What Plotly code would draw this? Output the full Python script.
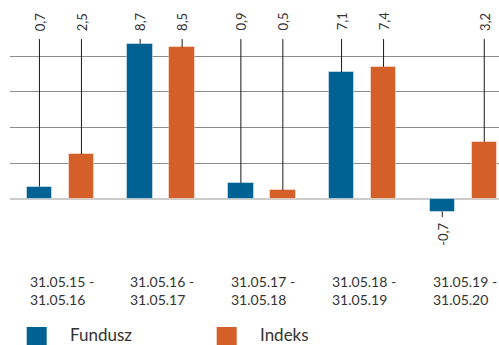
import plotly.graph_objects as go

# Yearly returns: fund vs benchmark index
periods = ["31.05.15 -<br>31.05.16", "31.05.16 -<br>31.05.17", "31.05.17 -<br>31.05.18",
           "31.05.18 -<br>31.05.19", "31.05.19 -<br>31.05.20"]
series_names = ["Fundusz", "Indeks"]
fundusz = [0.7, 8.7, 0.9, 7.1, -0.7]
indeks = [2.5, 8.5, 0.5, 7.4, 3.2]
grid_values = [2, 4, 6, 8]

colors = ["#006193", "#D45F29"]
bar_width = 0.253
bar_offsets = [-0.334, 0.083]
label_pos_top = 9.37     # where positive labels start
leader_top = 8.96        # where positive leader lines end
label_pos_bottom = -1.29
leader_bottom = -1.01
font_family = "Lato, 'Open Sans', sans-serif"
text_color = "#333333"

fig = go.Figure()
xs = list(range(len(periods)))
annotations = []

for name, vals, col, off in zip(series_names, [fundusz, indeks], colors, bar_offsets):
    fig.add_trace(go.Bar(
        x=xs, y=vals, width=bar_width, offset=off, name=name,
        marker=dict(color=col, line=dict(color="rgba(255,255,255,0.45)", width=1)),
        showlegend=False, hoverinfo="y",
    ))
    lx, ly = [], []
    for i, v in zip(xs, vals):
        cx = i + off + bar_width / 2
        end = leader_top if v >= 0 else leader_bottom
        lx += [cx, cx, None]
        ly += [v, end, None]
        annotations.append(dict(
            x=cx, y=label_pos_top if v >= 0 else label_pos_bottom,
            xref="x", yref="y", text=f"{v:.1f}".replace(".", ","),
            textangle=-90, showarrow=False, borderpad=0,
            yanchor="bottom" if v >= 0 else "top", xanchor="center",
            font=dict(family=font_family, size=13, color=text_color),
        ))
    fig.add_trace(go.Scatter(x=lx, y=ly, mode="lines", line=dict(color="#1a1a1a", width=1),
                             showlegend=False, hoverinfo="skip"))

# period labels under each group, left aligned
for i, p in zip(xs, periods):
    annotations.append(dict(
        x=i + bar_offsets[0], y=0, xref="x", yref="paper", xshift=1, yshift=-16,
        text=p, showarrow=False, xanchor="left", yanchor="top", align="left",
        font=dict(family=font_family, size=14, color=text_color),
    ))

# legend drawn by hand with larger swatches
shapes = []
legend_x = [16.7, 206.7]
for name, col, lx in zip(series_names, colors, legend_x):
    shapes.append(dict(type="rect", xref="paper", yref="paper", xsizemode="pixel",
                       ysizemode="pixel", xanchor=0, yanchor=0,
                       x0=lx, x1=lx + 20, y0=-72, y1=-92,
                       fillcolor=col, line=dict(width=0)))
    annotations.append(dict(x=0, y=0, xref="paper", yref="paper", xshift=lx + 41,
                            yshift=-79, text=name, showarrow=False,
                            xanchor="left", yanchor="middle",
                            font=dict(family=font_family, size=17, color=text_color)))

fig.update_layout(
    width=499, height=345,
    margin=dict(l=10, r=0, t=0, b=90),
    paper_bgcolor="white", plot_bgcolor="white",
    bargap=0,
    xaxis=dict(range=[-0.5, 4.356], showticklabels=False, showgrid=False,
               zeroline=False, showline=False, fixedrange=True),
    yaxis=dict(range=[-3.137, 11.148], tickmode="array", tickvals=grid_values,
               showticklabels=False,
               showgrid=True, gridcolor="#8c8c8c", gridwidth=1,
               zeroline=True, zerolinecolor="#cccccc", zerolinewidth=2,
               showline=False, fixedrange=True),
    annotations=annotations, shapes=shapes,
)

fig.write_html("out.html")
